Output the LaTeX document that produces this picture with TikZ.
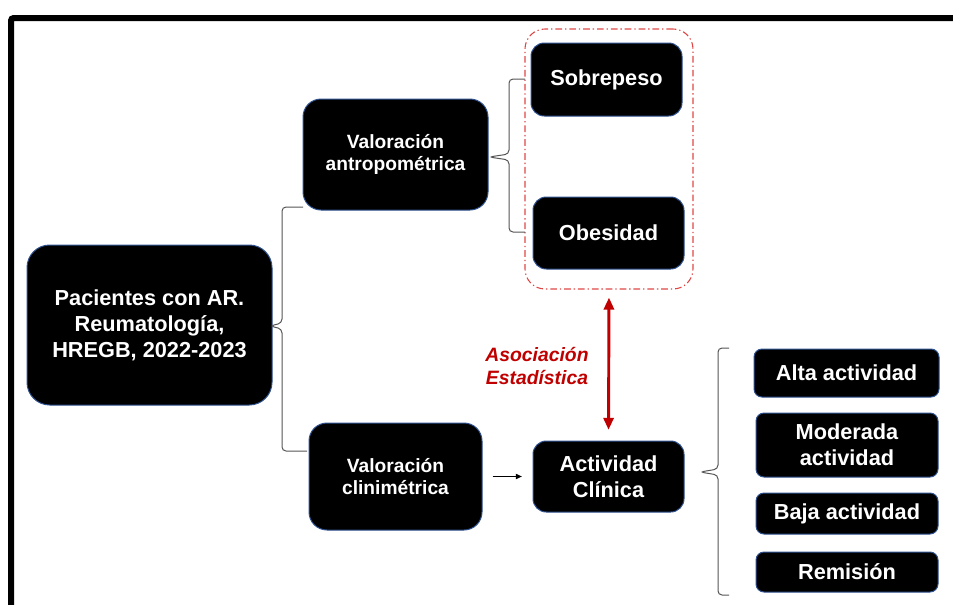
\documentclass[tikz,border=0pt]{standalone}
\usepackage{fontspec}
\setmainfont{Liberation Sans}
\usetikzlibrary{arrows.meta}
\definecolor{boxline}{RGB}{47,82,143}
\definecolor{assocred}{RGB}{192,0,0}
\definecolor{grpred}{RGB}{222,70,70}
\definecolor{braceline}{RGB}{85,85,85}
\tikzset{
  box/.style={draw=boxline, line width=0.75pt, fill=black, text=white, align=center,
    inner sep=0pt, font=\fontsize{16.3}{19.5}\selectfont\bfseries},
  bigbox/.style={box, rounded corners=17pt},
  midbox/.style={box, rounded corners=13.5pt, font=\fontsize{14.4}{16.5}\selectfont\bfseries},
  smallbox/.style={box, rounded corners=10pt},
  listbox/.style={box, rounded corners=6pt},
  brace/.style={draw=braceline, line width=0.75pt, rounded corners=3pt},
  grp/.style={draw=grpred, line width=0.8pt, rounded corners=15pt,
    dash pattern=on 5pt off 2.2pt on 1pt off 2.2pt},
  assoc/.style={draw=assocred, line width=2.2pt, {Triangle[length=9pt,width=7.5pt]}-{Triangle[length=9pt,width=7.5pt]}}
}
\begin{document}
\begin{tikzpicture}[x=0.75pt, y=-0.75pt]
    \clip (0,0) rectangle (953,604);
    % outer frame
    \draw[line width=4.5pt, rounded corners=2pt] (11,620) -- (11,18) -- (970,18);
    % group of weight results
    \node[grp, minimum width=126pt, minimum height=195pt] (grp) at (609,159) {};
    \node[bigbox, minimum width=183.75pt, minimum height=120pt] (pac) at (149.5,325)
        {Pacientes con AR.\\Reumatología,\\HREGB, 2022-2023};
    \node[midbox, minimum width=138.75pt, minimum height=83.25pt] (val_a) at (395.5,154.5)
        {Valoración\\antropométrica};
    \node[midbox, minimum width=129.75pt, minimum height=80.25pt] (val_c) at (395.5,476.5)
        {Valoración\\clinimétrica};
    \node[smallbox, minimum width=113.25pt, minimum height=54.75pt] (sob) at (606.5,79.5) {Sobrepeso};
    \node[smallbox, minimum width=113.25pt, minimum height=54pt] (obe) at (608.5,233) {Obesidad};
    \node[smallbox, minimum width=113.25pt, minimum height=53.25pt] (act) at (608.5,476.5)
        {Actividad\\Clínica};
    \node[listbox, minimum width=138.75pt, minimum height=36pt] (alta) at (846.5,373) {Alta actividad};
    \node[listbox, minimum width=136.5pt, minimum height=48pt] (mod) at (847,445) {Moderada\\actividad};
    \node[listbox, minimum width=136.5pt, minimum height=30.75pt] (baja) at (847,513.5) {Baja actividad};
    \node[listbox, minimum width=136.5pt, minimum height=30pt] (rem) at (847,572) {Remisión};
    \node[text=assocred, align=center, font=\fontsize{14.5}{17}\selectfont\bfseries\itshape] (txt) at (537,366)
        {Asociación\\Estadística};
    % braces
    \coordinate (B1_top) at (303,207);
    \coordinate (B1_tip) at (270,326);
    \coordinate (B1_bot) at (307,451);
    \draw[brace] (B1_top) -- (282,207) -- (282,323) -- (B1_tip) -- (282,329) -- (282,451) -- (B1_bot);
    \coordinate (B2_top) at (525,79);
    \coordinate (B2_tip) at (489,157);
    \coordinate (B2_bot) at (525,232);
    \draw[brace] (B2_top) -- (509,79) -- (509,154) -- (B2_tip) -- (509,160) -- (509,232) -- (B2_bot);
    \coordinate (B3_top) at (729,348);
    \coordinate (B3_tip) at (700,472);
    \coordinate (B3_bot) at (729,595);
    \draw[brace] (B3_top) -- (718,348) -- (718,469) -- (B3_tip) -- (718,475) -- (718,595) -- (B3_bot);
    % arrows
    \draw[-{Triangle[length=4.5pt,width=4pt]}, line width=0.75pt, shorten <=7.5pt, shorten >=8pt] (val_c) -- (act);
    \draw[assoc, shorten <=6pt, shorten >=8pt] (grp.south) -- (act.north);
\end{tikzpicture}
\end{document}
